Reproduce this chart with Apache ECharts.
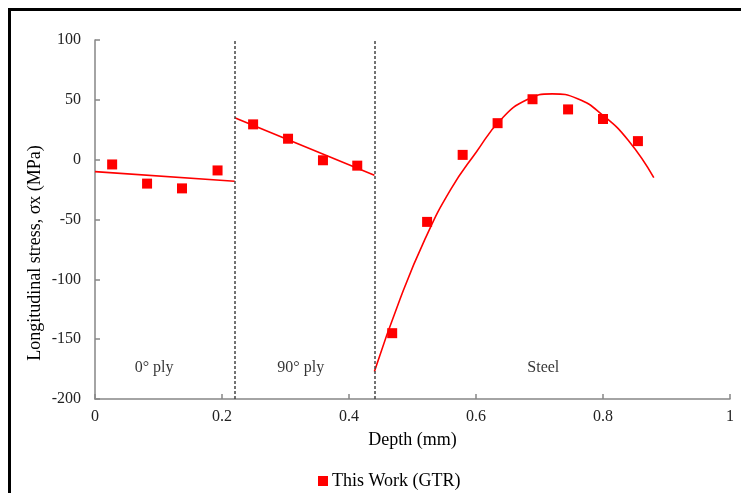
<!DOCTYPE html>
<html>
<head>
<meta charset="utf-8">
<script src="https://cdn.jsdelivr.net/npm/echarts@6/dist/echarts.min.js"></script>
<style>
    html, body { margin: 0; padding: 0; background: #fff; }
    #chart { position: absolute; left: 0; top: 0; width: 741px; height: 493px; }
    .frame {
        position: absolute; left: 8px; top: 8px; right: 0; bottom: 0;
        border-top: 3px solid #000; border-left: 3px solid #000;
        pointer-events: none;
    }
</style>
</head>
<body>
<div id="chart"></div>
<div class="frame"></div>
<script>
// measured points (GTR)
const measuredDepth = [0.027, 0.082, 0.137, 0.193, 0.249, 0.304, 0.359, 0.413,
    0.468, 0.523, 0.579, 0.634, 0.689, 0.745, 0.8, 0.855];
const measuredStress = [-4, -20, -24, -9, 29.5, 17.5, -0.5, -5,
    -145, -52, 4, 30.5, 50.5, 42, 34, 15.5];

// fitted trend lines per layer
const zeroFitDepth = [0, 0.22];
const zeroFitStress = [-10, -18];
const ninetyFitDepth = [0.22, 0.44];
const ninetyFitStress = [35, -13];
const steelFitDepth = [0.44, 0.48, 0.52, 0.56, 0.6, 0.64, 0.68, 0.72, 0.76, 0.8, 0.84, 0.88];
const steelFitStress = [-177, -117, -66, -25, 6, 34, 50, 55, 51, 37, 16, -15];

// layer boundaries and labels
const boundaries = [0.22, 0.44];
const layerNames = ['0° ply', '90° ply', 'Steel'];
const layerLabelDepth = [0.093, 0.324, 0.706];
const layerLabelStress = [-174, -174, -174];

const font = 'Liberation Serif';
const red = '#ff0000';

const pairs = (xs, ys) => xs.map((x, i) => [x, ys[i]]);

const fitLine = (xs, ys, smooth) => ({
    type: 'line',
    data: pairs(xs, ys),
    smooth: smooth,
    symbol: 'none',
    silent: true,
    lineStyle: { color: red, width: 1.6 },
    z: 2,
});

const chart = echarts.init(document.getElementById('chart'));

chart.setOption({
    animation: false,
    grid: { left: 95, right: 11, top: 40, bottom: 94 },
    legend: {
        data: ['This Work (GTR)'],
        left: 313,
        top: 467,
        icon: 'rect',
        itemWidth: 10,
        itemHeight: 10,
        itemGap: 4,
        itemStyle: { opacity: 1 },
        textStyle: { fontFamily: font, fontSize: 18, color: '#000', padding: [0, 0, 0, -1] },
    },
    xAxis: {
        type: 'value',
        min: 0,
        max: 1,
        interval: 0.2,
        name: 'Depth (mm)',
        nameLocation: 'middle',
        nameGap: 32,
        nameTextStyle: { fontFamily: font, fontSize: 18, color: '#000' },
        axisLine: { onZero: false, lineStyle: { color: '#868686', width: 1.5 } },
        axisTick: { inside: true, length: 5, lineStyle: { color: '#868686', width: 1.5 } },
        axisLabel: { fontFamily: font, fontSize: 16, color: '#222', margin: 10 },
        splitLine: { show: false },
    },
    yAxis: {
        type: 'value',
        min: -200,
        max: 100,
        interval: 50,
        axisLine: { show: true, onZero: false, lineStyle: { color: '#868686', width: 1.5 } },
        axisTick: { show: true, inside: true, length: 5, lineStyle: { color: '#868686', width: 1.5 } },
        axisLabel: { fontFamily: font, fontSize: 16, color: '#222', margin: 14 },
        splitLine: { show: false },
    },
    graphic: [
        {
            type: 'text',
            x: 35,
            y: 253,
            rotation: Math.PI / 2,
            style: {
                text: 'Longitudinal stress, σx (MPa)',
                font: '18px "Liberation Serif"',
                fill: '#000',
                align: 'center',
                verticalAlign: 'middle',
            },
        },
    ],
    series: [
        fitLine(zeroFitDepth, zeroFitStress, false),
        fitLine(ninetyFitDepth, ninetyFitStress, false),
        fitLine(steelFitDepth, steelFitStress, 0.5),
        {
            name: 'This Work (GTR)',
            type: 'scatter',
            symbol: 'rect',
            symbolSize: 10,
            itemStyle: { color: red, opacity: 1 },
            data: pairs(measuredDepth, measuredStress),
            z: 3,
            markLine: {
                silent: true,
                symbol: 'none',
                label: { show: false },
                lineStyle: { color: '#444', type: [3, 2], width: 1.5 },
                data: boundaries.map((b) => ({ xAxis: b })),
            },
        },
        {
            type: 'scatter',
            symbolSize: 0,
            silent: true,
            data: pairs(layerLabelDepth, layerLabelStress),
            label: {
                show: true,
                position: 'inside',
                formatter: (p) => layerNames[p.dataIndex],
                fontFamily: font,
                fontSize: 16,
                color: '#000',
            },
        },
    ],
});
</script>
</body>
</html>
